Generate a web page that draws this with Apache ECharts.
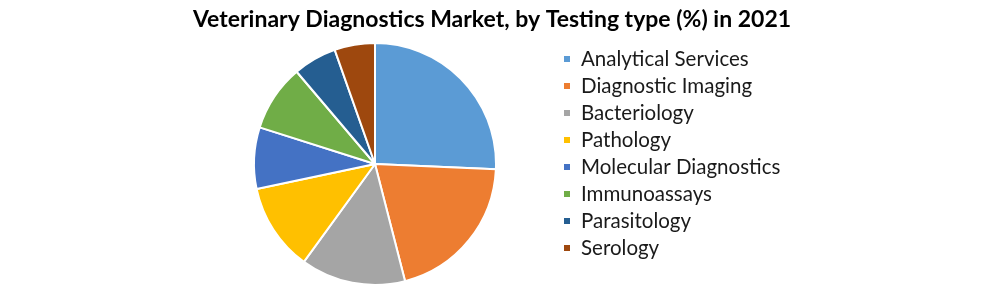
<!DOCTYPE html>
<html><head><meta charset="utf-8">
<script src="https://cdn.jsdelivr.net/npm/echarts@6/dist/echarts.min.js"></script>
<style>html,body{margin:0;padding:0;background:#fff}#c{width:996px;height:286px}</style>
</head><body><div id="c"></div>
<script>
const categories = ["Analytical Services","Diagnostic Imaging","Bacteriology","Pathology","Molecular Diagnostics","Immunoassays","Parasitology","Serology"];
const values = [25.7, 20.3, 14.0, 11.7, 8.2, 8.9, 5.8, 5.4];
const colors = ["#5B9BD5","#ED7D31","#A5A5A5","#FFC000","#4472C4","#70AD47","#255E91","#9E480E"];
const chart = echarts.init(document.getElementById('c'));
chart.setOption({
  animation: false,
  title: {
    text: "Veterinary Diagnostics Market, by Testing type (%) in 2021",
    left: 487, top: 3, textAlign: 'center',
    textStyle: {fontFamily: 'Lato', fontWeight: 'bold', fontSize: 23, color: '#000'}
  },
  legend: {
    orient: 'vertical', left: 557, top: 43.5,
    itemWidth: 8, itemHeight: 8, itemGap: 6, icon: 'rect',
    textStyle: {fontFamily: 'Lato', fontSize: 20.5, lineHeight: 20, color: '#1a1a1a', padding: [0,0,0,5]},
    data: categories
  },
  series: [{
    type: 'pie', center: [375, 164], radius: 121, startAngle: 90, clockwise: true,
    label: {show: false}, labelLine: {show: false},
    itemStyle: {borderColor: '#fff', borderWidth: 2},
    emphasis: {disabled: true},
    data: categories.map((n, i) => ({name: n, value: values[i], itemStyle: {color: colors[i]}}))
  }]
});
</script></body></html>
